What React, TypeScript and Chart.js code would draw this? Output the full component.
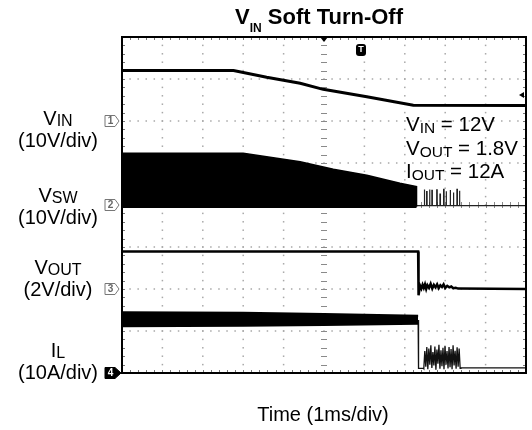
import React, { useEffect, useRef } from "react";
import { Chart, registerables } from "chart.js";

Chart.register(...registerables);

// ---------- Screen: 10 x 8 divisions, time 1 ms/div ----------
const TIME_MIN = 0;
const TIME_MAX = 10;
const DIV_MIN = 0;
const DIV_MAX = 8;

// Channel ground references (divisions from bottom) and sensitivity (units/div)
const vinGround = 6;
const vswGround = 4;
const voutGround = 2;
const ilGround = 0;
const vinScale = 10; // V/div
const vswScale = 10; // V/div
const voutScale = 2; // V/div
const ilScale = 10; // A/div

// ---------- Data (time in ms) ----------
// V_IN
const vinTime = [0, 2.76, 3.58, 4.41, 4.98, 6.06, 7.21, 10];
const vinVolts = [12.0, 12.0, 10.4, 8.97, 7.54, 5.79, 3.73, 3.7];

// V_SW switching envelope (peak) and band low edge
const vswEnvTime = [0, 3.0, 3.58, 4.41, 5.23, 6.06, 6.88, 7.29];
const vswEnvVolts = [12.3, 12.3, 11.5, 10.3, 8.5, 7.1, 5.2, 4.4];
const vswBandLowVolts = -0.4;
const vswIdleVolts = -0.15;
// V_SW isolated pulses after switching stops
const vswPulseTime = [7.48, 7.54, 7.61, 7.67, 7.79, 7.87, 7.96, 8.02, 8.12, 8.2, 8.29, 8.35];
const vswPulseVolts = [3.7, 3.2, 3.7, 3.5, 3.6, 2.6, 3.7, 3.3, 3.6, 3.0, 3.7, 3.4];

// V_OUT
const voutTime = [0, 7.33, 7.34, 7.36, 7.38, 7.41, 7.44, 7.47, 7.5, 7.53, 7.56, 7.6, 7.64, 7.68, 7.72, 7.76, 7.8, 7.84, 7.88, 7.92, 7.96, 8.0, 8.05, 8.1, 8.15, 8.2, 8.26, 8.32, 10];
const voutVolts = [1.78, 1.79, -0.3, -0.05, 0.15, 0.02, 0.2, 0.05, 0.22, 0.0, 0.18, 0.06, 0.25, 0.02, 0.2, 0.08, 0.22, 0.04, 0.18, 0.1, 0.22, 0.05, 0.15, 0.08, 0.12, 0.04, 0.06, 0.02, 0.0];

// I_L ripple band while switching
const ilBandTime = [0, 3, 5, 7.33];
const ilBandHighAmps = [14.4, 14.3, 14.0, 13.6];
const ilBandLowAmps = [11.2, 11.3, 11.5, 11.8];
// I_L after turn-off
const ilTailTime = [7.33, 7.34, 7.46,
  7.47, 7.495, 7.52, 7.545, 7.57, 7.595, 7.62, 7.645, 7.67, 7.695, 7.72, 7.745, 7.77, 7.795, 7.82, 7.845, 7.87, 7.895,
  7.92, 7.945, 7.97, 7.995, 8.02, 8.045, 8.07, 8.095, 8.12, 8.145, 8.17, 8.195, 8.22, 8.245, 8.27, 8.295, 8.32, 8.345, 8.37,
  8.39, 10];
const ilTailAmps = [12.6, 1.1, 1.1,
  1.0, 5.2, 1.5, 6.2, 0.9, 5.8, 2.0, 6.6, 1.2, 5.0, 1.8, 6.3, 0.8, 5.6, 2.2, 6.7, 1.0, 5.4,
  1.6, 6.0, 0.9, 6.5, 2.0, 5.2, 1.1, 6.2, 1.4, 5.7, 0.9, 6.6, 1.8, 5.3, 1.0, 6.1, 1.5, 5.8, 1.1,
  1.2, 1.2];

// ---------- Texts ----------
const titleMain = "V";
const titleSub = "IN";
const titleRest = " Soft Turn-Off";
const xAxisTitle = "Time (1ms/div)";
const channelLabels = [
  { main: "V", sub: "IN", scale: "(10V/div)", marker: "1" },
  { main: "V", sub: "SW", scale: "(10V/div)", marker: "2" },
  { main: "V", sub: "OUT", scale: "(2V/div)", marker: "3" },
  { main: "I", sub: "L", scale: "(10A/div)", marker: "4" },
];
const notes = [
  { main: "V", sub: "IN", rest: " = 12V" },
  { main: "V", sub: "OUT", rest: " = 1.8V" },
  { main: "I", sub: "OUT", rest: " = 12A" },
];

const FONT = "'Liberation Sans', Arial, Helvetica, sans-serif";

type Part = { text: string; size: number; bold?: boolean; dy?: number };

function setFont(ctx: CanvasRenderingContext2D, p: Part) {
  ctx.font = `${p.bold ? "bold " : ""}${p.size}px ${FONT}`;
}
function drawRich(ctx: CanvasRenderingContext2D, parts: Part[], x: number, y: number, align: "left" | "center") {
  let w = 0;
  for (const p of parts) {
    setFont(ctx, p);
    w += ctx.measureText(p.text).width;
  }
  let cx = align === "center" ? x - w / 2 : x;
  ctx.textAlign = "left";
  ctx.textBaseline = "alphabetic";
  for (const p of parts) {
    setFont(ctx, p);
    ctx.fillText(p.text, cx, y + (p.dy || 0));
    cx += ctx.measureText(p.text).width;
  }
}

const toPts = (ts: number[], vs: number[], ground: number, scale: number) =>
  ts.map((t, i) => ({ x: t, y: ground + vs[i] / scale }));

const scopeGrid = {
  id: "scopeGrid",
  beforeDatasetsDraw(chart: any) {
    const { ctx, chartArea: a } = chart;
    const w = a.right - a.left;
    const h = a.bottom - a.top;
    const dx = w / TIME_MAX;
    const dy = h / DIV_MAX;
    ctx.save();
    ctx.fillStyle = "#a8a8a8";
    // dotted verticals
    for (let i = 1; i < TIME_MAX; i++) {
      if (i === 5) continue;
      const x = a.left + i * dx;
      for (let j = 1; j < DIV_MAX * 5; j++) {
        const y = a.top + (j * dy) / 5;
        ctx.fillRect(x - 0.75, y - 0.75, 1.5, 1.5);
      }
    }
    // dotted horizontals
    for (let k = 1; k < DIV_MAX; k++) {
      if (k === 4) continue;
      const y = a.top + k * dy;
      for (let j = 1; j < TIME_MAX * 5; j++) {
        const x = a.left + (j * dx) / 5;
        ctx.fillRect(x - 0.75, y - 0.75, 1.5, 1.5);
      }
    }
    // center crosshair with minor ticks
    ctx.strokeStyle = "#8a8a8a";
    ctx.lineWidth = 1;
    const cxp = a.left + 5 * dx;
    const cyp = a.top + 4 * dy;
    for (let j = 1; j < DIV_MAX * 5; j++) {
      const y = Math.round(a.top + (j * dy) / 5) + 0.5;
      ctx.beginPath();
      ctx.moveTo(cxp - 3, y);
      ctx.lineTo(cxp + 3, y);
      ctx.stroke();
    }
    for (let j = 1; j < TIME_MAX * 5; j++) {
      const x = Math.round(a.left + (j * dx) / 5) + 0.5;
      ctx.beginPath();
      ctx.moveTo(x, cyp - 3);
      ctx.lineTo(x, cyp + 3);
      ctx.stroke();
    }
    // border ticks
    ctx.strokeStyle = "#777";
    for (let j = 1; j < TIME_MAX * 5; j++) {
      const x = Math.round(a.left + (j * dx) / 5) + 0.5;
      ctx.beginPath();
      ctx.moveTo(x, a.top);
      ctx.lineTo(x, a.top + 3);
      ctx.moveTo(x, a.bottom);
      ctx.lineTo(x, a.bottom - 3);
      ctx.stroke();
    }
    for (let j = 1; j < DIV_MAX * 5; j++) {
      const y = Math.round(a.top + (j * dy) / 5) + 0.5;
      ctx.beginPath();
      ctx.moveTo(a.left, y);
      ctx.lineTo(a.left + 3, y);
      ctx.moveTo(a.right, y);
      ctx.lineTo(a.right - 3, y);
      ctx.stroke();
    }
    ctx.restore();
  },
  afterDraw(chart: any) {
    const { ctx, chartArea: a, scales } = chart;
    const ys = scales.y;
    const xs = scales.x;
    ctx.save();
    // frame
    ctx.strokeStyle = "#000";
    ctx.lineWidth = 2;
    ctx.strokeRect(a.left, a.top, a.right - a.left, a.bottom - a.top);

    // trigger position marker at top center
    const cx = xs.getPixelForValue(5);
    ctx.fillStyle = "#000";
    ctx.beginPath();
    ctx.moveTo(cx - 4, a.top);
    ctx.lineTo(cx + 4, a.top);
    ctx.lineTo(cx, a.top + 5);
    ctx.closePath();
    ctx.fill();

    // "T" trigger icon
    const tx = 361;
    const ty = 50;
    ctx.beginPath();
    ctx.roundRect(tx - 5, ty - 6, 10, 12, 3);
    ctx.fill();
    ctx.fillStyle = "#fff";
    ctx.font = `bold 9px ${FONT}`;
    ctx.textAlign = "center";
    ctx.textBaseline = "middle";
    ctx.fillText("T", tx, ty);

    // trigger level arrow at right
    ctx.fillStyle = "#000";
    ctx.beginPath();
    ctx.moveTo(a.right - 7, 95);
    ctx.lineTo(a.right - 2, 92);
    ctx.lineTo(a.right - 2, 98);
    ctx.closePath();
    ctx.fill();

    // channel markers
    const grounds = [vinGround, vswGround, voutGround, ilGround];
    channelLabels.forEach((c, i) => {
      const yc = ys.getPixelForValue(grounds[i]);
      const filled = i === 3;
      const x0 = 105;
      const x1 = 115;
      const tip = filled ? 121 : 119;
      ctx.beginPath();
      ctx.moveTo(x0, yc - 5.5);
      ctx.lineTo(x1, yc - 5.5);
      ctx.lineTo(tip, yc);
      ctx.lineTo(x1, yc + 5.5);
      ctx.lineTo(x0, yc + 5.5);
      ctx.closePath();
      ctx.fillStyle = filled ? "#000" : "#fff";
      ctx.fill();
      ctx.strokeStyle = filled ? "#000" : "#777";
      ctx.lineWidth = 1;
      ctx.stroke();
      ctx.fillStyle = filled ? "#fff" : "#666";
      ctx.font = `bold 10px ${FONT}`;
      ctx.textAlign = "center";
      ctx.textBaseline = "middle";
      ctx.fillText(c.marker, (x0 + x1) / 2 + 0.5, yc + 0.5);
    });

    // texts
    ctx.fillStyle = "#000";
    drawRich(
      ctx,
      [
        { text: titleMain, size: 22, bold: true },
        { text: titleSub, size: 12, bold: true, dy: 8 },
        { text: titleRest, size: 22, bold: true },
      ],
      319,
      24,
      "center"
    );

    const labelBase = [125, 202, 274, 357];
    channelLabels.forEach((c, i) => {
      drawRich(
        ctx,
        [
          { text: c.main, size: 20 },
          { text: c.sub, size: 16, dy: 1 },
        ],
        58,
        labelBase[i],
        "center"
      );
      drawRich(ctx, [{ text: c.scale, size: 20 }], 58, labelBase[i] + 22, "center");
    });

    const noteBase = [131, 155, 178];
    notes.forEach((n, i) => {
      drawRich(
        ctx,
        [
          { text: n.main, size: 20.5 },
          { text: n.sub, size: 15.5, dy: 2 },
          { text: n.rest, size: 20.5 },
        ],
        406,
        noteBase[i],
        "left"
      );
    });

    drawRich(ctx, [{ text: xAxisTitle, size: 20 }], 323, 421, "center");
    ctx.restore();
  },
};

export default function App() {
  const ref = useRef<HTMLCanvasElement | null>(null);

  useEffect(() => {
    if (!ref.current) return;
    document.body.style.margin = "0";

    const vinData = toPts(vinTime, vinVolts, vinGround, vinScale);

    const vswLow = vswGround + vswBandLowVolts / vswScale;
    const vswIdle = vswGround + vswIdleVolts / vswScale;
    const vswEnvData = toPts(vswEnvTime, vswEnvVolts, vswGround, vswScale);
    const bandEnd = vswEnvTime[vswEnvTime.length - 1];
    vswEnvData.push({ x: bandEnd, y: vswLow });
    const vswBaseData = [
      { x: TIME_MIN, y: vswLow },
      { x: bandEnd, y: vswLow },
    ];
    const vswTailData: { x: number; y: number }[] = [{ x: bandEnd, y: vswIdle }];
    vswPulseTime.forEach((t, i) => {
      const top = vswGround + vswPulseVolts[i] / vswScale;
      vswTailData.push({ x: t, y: vswIdle }, { x: t, y: top }, { x: t + 0.012, y: top }, { x: t + 0.012, y: vswIdle });
    });
    vswTailData.push({ x: TIME_MAX, y: vswIdle });

    const voutData = toPts(voutTime, voutVolts, voutGround, voutScale);
    const ilHigh = toPts(ilBandTime, ilBandHighAmps, ilGround, ilScale);
    const ilLow = toPts(ilBandTime, ilBandLowAmps, ilGround, ilScale);
    const ilTail = toPts(ilTailTime, ilTailAmps, ilGround, ilScale);

    const line = (data: any[], width: number, extra: any = {}) => ({
      data,
      borderColor: "#000",
      backgroundColor: "#000",
      borderWidth: width,
      pointRadius: 0,
      tension: 0,
      fill: false,
      ...extra,
    });

    const chart = new Chart(ref.current, {
      type: "line",
      data: {
        datasets: [
          line(vinData, 3),
          line(vswEnvData, 1.5, { fill: { value: vswLow } }),
          line(vswBaseData, 2.5),
          line(vswTailData, 1.2, { borderColor: "#222" }),
          line(voutData, 2.5),
          line(ilHigh, 2.5, { fill: "+1" }),
          line(ilLow, 2.5),
          line(ilTail, 1.3, { borderColor: "#111" }),
        ] as any,
      },
      options: {
        animation: false,
        responsive: false,
        devicePixelRatio: 1,
        parsing: false as any,
        normalized: true,
        layout: { padding: { left: 122, right: 6, top: 37, bottom: 57 } },
        scales: {
          x: { type: "linear", min: TIME_MIN, max: TIME_MAX, display: false },
          y: { type: "linear", min: DIV_MIN, max: DIV_MAX, display: false },
        },
        plugins: {
          legend: { display: false },
          tooltip: { enabled: false },
          title: { display: false },
        },
        events: [],
      },
      plugins: [scopeGrid],
    });
    return () => chart.destroy();
  }, []);

  return (
    <div style={{ position: "absolute", left: 0, top: 0, width: 532, height: 430, background: "#fff" }}>
      <canvas ref={ref} width={532} height={430} style={{ width: 532, height: 430, display: "block" }} />
    </div>
  );
}
